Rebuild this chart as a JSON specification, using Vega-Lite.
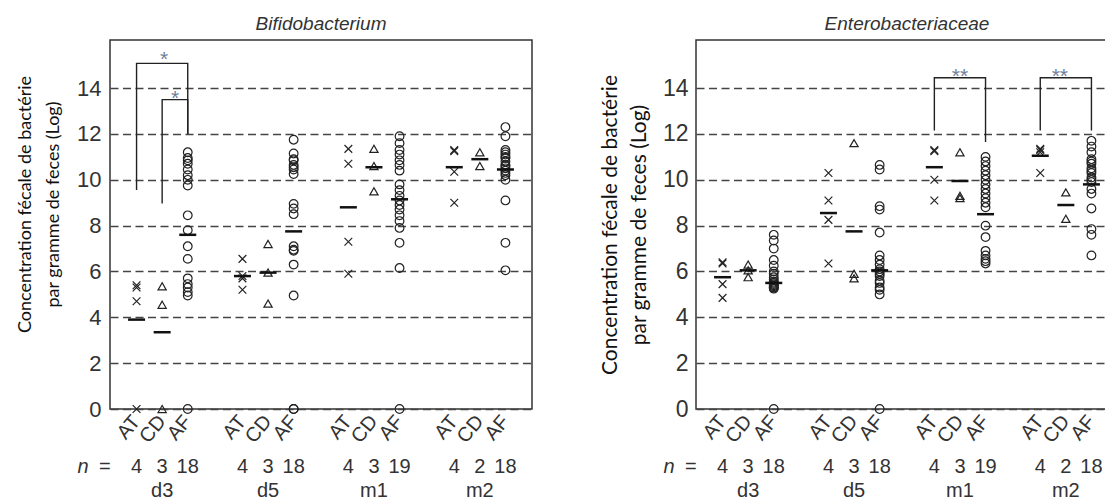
{
 "$schema": "https://vega.github.io/schema/vega-lite/v6.json",
 "padding": {"left": 15, "top": 14, "right": 0, "bottom": 0},
 "background": "white",
 "spacing": 65,
 "config": {"view": {"stroke": "#333", "strokeWidth": 1.5}, "font": "Liberation Sans"},
 "datasets": {
  "bif": [
   {"period":"d3","group":"AT","value":0},{"period":"d3","group":"AT","value":4.7},{"period":"d3","group":"AT","value":5.3},{"period":"d3","group":"AT","value":5.4},
   {"period":"d3","group":"CD","value":0},{"period":"d3","group":"CD","value":4.55},{"period":"d3","group":"CD","value":5.35},
   {"period":"d3","group":"AF","value":11.2},{"period":"d3","group":"AF","value":10.95},{"period":"d3","group":"AF","value":10.85},{"period":"d3","group":"AF","value":10.7},{"period":"d3","group":"AF","value":10.45},{"period":"d3","group":"AF","value":10.2},{"period":"d3","group":"AF","value":10.0},{"period":"d3","group":"AF","value":9.75},{"period":"d3","group":"AF","value":8.45},{"period":"d3","group":"AF","value":7.8},{"period":"d3","group":"AF","value":7.1},{"period":"d3","group":"AF","value":6.55},{"period":"d3","group":"AF","value":5.7},{"period":"d3","group":"AF","value":5.45},{"period":"d3","group":"AF","value":5.3},{"period":"d3","group":"AF","value":5.1},{"period":"d3","group":"AF","value":4.95},{"period":"d3","group":"AF","value":0},
   {"period":"d5","group":"AT","value":6.55},{"period":"d5","group":"AT","value":5.8},{"period":"d5","group":"AT","value":5.7},{"period":"d5","group":"AT","value":5.2},
   {"period":"d5","group":"CD","value":7.2},{"period":"d5","group":"CD","value":5.95},{"period":"d5","group":"CD","value":4.6},
   {"period":"d5","group":"AF","value":11.75},{"period":"d5","group":"AF","value":11.15},{"period":"d5","group":"AF","value":10.9},{"period":"d5","group":"AF","value":10.85},{"period":"d5","group":"AF","value":10.65},{"period":"d5","group":"AF","value":10.55},{"period":"d5","group":"AF","value":10.45},{"period":"d5","group":"AF","value":10.25},{"period":"d5","group":"AF","value":8.95},{"period":"d5","group":"AF","value":8.75},{"period":"d5","group":"AF","value":8.5},{"period":"d5","group":"AF","value":7.1},{"period":"d5","group":"AF","value":6.95},{"period":"d5","group":"AF","value":6.9},{"period":"d5","group":"AF","value":6.3},{"period":"d5","group":"AF","value":4.95},{"period":"d5","group":"AF","value":0},{"period":"d5","group":"AF","value":0},
   {"period":"m1","group":"AT","value":11.35},{"period":"m1","group":"AT","value":10.7},{"period":"m1","group":"AT","value":7.3},{"period":"m1","group":"AT","value":5.9},
   {"period":"m1","group":"CD","value":11.35},{"period":"m1","group":"CD","value":10.6},{"period":"m1","group":"CD","value":9.5},
   {"period":"m1","group":"AF","value":11.9},{"period":"m1","group":"AF","value":11.6},{"period":"m1","group":"AF","value":11.3},{"period":"m1","group":"AF","value":11.1},{"period":"m1","group":"AF","value":10.85},{"period":"m1","group":"AF","value":10.65},{"period":"m1","group":"AF","value":10.4},{"period":"m1","group":"AF","value":9.8},{"period":"m1","group":"AF","value":9.55},{"period":"m1","group":"AF","value":9.3},{"period":"m1","group":"AF","value":9.1},{"period":"m1","group":"AF","value":8.9},{"period":"m1","group":"AF","value":8.7},{"period":"m1","group":"AF","value":8.45},{"period":"m1","group":"AF","value":8.2},{"period":"m1","group":"AF","value":7.9},{"period":"m1","group":"AF","value":7.25},{"period":"m1","group":"AF","value":6.15},{"period":"m1","group":"AF","value":0},
   {"period":"m2","group":"AT","value":11.3},{"period":"m2","group":"AT","value":11.25},{"period":"m2","group":"AT","value":10.35},{"period":"m2","group":"AT","value":9.0},
   {"period":"m2","group":"CD","value":11.2},{"period":"m2","group":"CD","value":10.6},
   {"period":"m2","group":"AF","value":12.3},{"period":"m2","group":"AF","value":11.9},{"period":"m2","group":"AF","value":11.3},{"period":"m2","group":"AF","value":11.2},{"period":"m2","group":"AF","value":11.1},{"period":"m2","group":"AF","value":11.0},{"period":"m2","group":"AF","value":10.95},{"period":"m2","group":"AF","value":10.8},{"period":"m2","group":"AF","value":10.65},{"period":"m2","group":"AF","value":10.6},{"period":"m2","group":"AF","value":10.5},{"period":"m2","group":"AF","value":10.4},{"period":"m2","group":"AF","value":10.3},{"period":"m2","group":"AF","value":10.2},{"period":"m2","group":"AF","value":10.0},{"period":"m2","group":"AF","value":9.1},{"period":"m2","group":"AF","value":7.25},{"period":"m2","group":"AF","value":6.05}
  ],
  "bif_mean": [
   {"period":"d3","group":"AT","value":3.9},{"period":"d3","group":"CD","value":3.35},{"period":"d3","group":"AF","value":7.6},
   {"period":"d5","group":"AT","value":5.8},{"period":"d5","group":"CD","value":5.95},{"period":"d5","group":"AF","value":7.75},
   {"period":"m1","group":"AT","value":8.8},{"period":"m1","group":"CD","value":10.55},{"period":"m1","group":"AF","value":9.15},
   {"period":"m2","group":"AT","value":10.55},{"period":"m2","group":"CD","value":10.9},{"period":"m2","group":"AF","value":10.45}
  ],
  "bif_br": [
   {"id":"outer","ord":1,"period":"d3","group":"AT","value":9.55},{"id":"outer","ord":2,"period":"d3","group":"AT","value":15.08},{"id":"outer","ord":3,"period":"d3","group":"AF","value":15.08},{"id":"outer","ord":4,"period":"d3","group":"AF","value":12.0},
   {"id":"inner","ord":1,"period":"d3","group":"CD","value":8.97},{"id":"inner","ord":2,"period":"d3","group":"CD","value":13.5},{"id":"inner","ord":3,"period":"d3","group":"AF","value":13.5},{"id":"inner","ord":4,"period":"d3","group":"AF","value":12.0}
  ],
  "ent": [
   {"period":"d3","group":"AT","value":6.4},{"period":"d3","group":"AT","value":6.35},{"period":"d3","group":"AT","value":5.45},{"period":"d3","group":"AT","value":4.85},
   {"period":"d3","group":"CD","value":6.3},{"period":"d3","group":"CD","value":6.05},{"period":"d3","group":"CD","value":5.75},
   {"period":"d3","group":"AF","value":7.6},{"period":"d3","group":"AF","value":7.35},{"period":"d3","group":"AF","value":7.0},{"period":"d3","group":"AF","value":6.5},{"period":"d3","group":"AF","value":6.25},{"period":"d3","group":"AF","value":6.0},{"period":"d3","group":"AF","value":5.9},{"period":"d3","group":"AF","value":5.75},{"period":"d3","group":"AF","value":5.65},{"period":"d3","group":"AF","value":5.55},{"period":"d3","group":"AF","value":5.5},{"period":"d3","group":"AF","value":5.45},{"period":"d3","group":"AF","value":5.4},{"period":"d3","group":"AF","value":5.35},{"period":"d3","group":"AF","value":5.3},{"period":"d3","group":"AF","value":5.3},{"period":"d3","group":"AF","value":5.25},{"period":"d3","group":"AF","value":0},
   {"period":"d5","group":"AT","value":10.3},{"period":"d5","group":"AT","value":9.1},{"period":"d5","group":"AT","value":8.25},{"period":"d5","group":"AT","value":6.35},
   {"period":"d5","group":"CD","value":11.6},{"period":"d5","group":"CD","value":5.9},{"period":"d5","group":"CD","value":5.7},
   {"period":"d5","group":"AF","value":10.65},{"period":"d5","group":"AF","value":10.45},{"period":"d5","group":"AF","value":8.85},{"period":"d5","group":"AF","value":8.7},{"period":"d5","group":"AF","value":7.7},{"period":"d5","group":"AF","value":6.7},{"period":"d5","group":"AF","value":6.5},{"period":"d5","group":"AF","value":6.3},{"period":"d5","group":"AF","value":6.1},{"period":"d5","group":"AF","value":6.0},{"period":"d5","group":"AF","value":5.9},{"period":"d5","group":"AF","value":5.8},{"period":"d5","group":"AF","value":5.6},{"period":"d5","group":"AF","value":5.5},{"period":"d5","group":"AF","value":5.3},{"period":"d5","group":"AF","value":5.2},{"period":"d5","group":"AF","value":5.0},{"period":"d5","group":"AF","value":0},
   {"period":"m1","group":"AT","value":11.3},{"period":"m1","group":"AT","value":11.25},{"period":"m1","group":"AT","value":10.0},{"period":"m1","group":"AT","value":9.1},
   {"period":"m1","group":"CD","value":11.2},{"period":"m1","group":"CD","value":9.3},{"period":"m1","group":"CD","value":9.2},
   {"period":"m1","group":"AF","value":11.0},{"period":"m1","group":"AF","value":10.8},{"period":"m1","group":"AF","value":10.6},{"period":"m1","group":"AF","value":10.4},{"period":"m1","group":"AF","value":10.2},{"period":"m1","group":"AF","value":10.0},{"period":"m1","group":"AF","value":9.8},{"period":"m1","group":"AF","value":9.6},{"period":"m1","group":"AF","value":9.4},{"period":"m1","group":"AF","value":9.2},{"period":"m1","group":"AF","value":9.0},{"period":"m1","group":"AF","value":8.8},{"period":"m1","group":"AF","value":8.0},{"period":"m1","group":"AF","value":7.5},{"period":"m1","group":"AF","value":6.9},{"period":"m1","group":"AF","value":6.7},{"period":"m1","group":"AF","value":6.55},{"period":"m1","group":"AF","value":6.45},{"period":"m1","group":"AF","value":6.35},
   {"period":"m2","group":"AT","value":11.35},{"period":"m2","group":"AT","value":11.3},{"period":"m2","group":"AT","value":11.2},{"period":"m2","group":"AT","value":10.3},
   {"period":"m2","group":"CD","value":9.45},{"period":"m2","group":"CD","value":8.3},
   {"period":"m2","group":"AF","value":11.7},{"period":"m2","group":"AF","value":11.45},{"period":"m2","group":"AF","value":11.2},{"period":"m2","group":"AF","value":10.9},{"period":"m2","group":"AF","value":10.8},{"period":"m2","group":"AF","value":10.7},{"period":"m2","group":"AF","value":10.5},{"period":"m2","group":"AF","value":10.4},{"period":"m2","group":"AF","value":10.3},{"period":"m2","group":"AF","value":10.1},{"period":"m2","group":"AF","value":10.0},{"period":"m2","group":"AF","value":9.9},{"period":"m2","group":"AF","value":9.6},{"period":"m2","group":"AF","value":9.4},{"period":"m2","group":"AF","value":8.75},{"period":"m2","group":"AF","value":7.85},{"period":"m2","group":"AF","value":7.6},{"period":"m2","group":"AF","value":6.7}
  ],
  "ent_mean": [
   {"period":"d3","group":"AT","value":5.75},{"period":"d3","group":"CD","value":6.05},{"period":"d3","group":"AF","value":5.5},
   {"period":"d5","group":"AT","value":8.55},{"period":"d5","group":"CD","value":7.75},{"period":"d5","group":"AF","value":6.05},
   {"period":"m1","group":"AT","value":10.55},{"period":"m1","group":"CD","value":9.95},{"period":"m1","group":"AF","value":8.5},
   {"period":"m2","group":"AT","value":11.05},{"period":"m2","group":"CD","value":8.9},{"period":"m2","group":"AF","value":9.8}
  ],
  "ent_br": [
   {"id":"m1","ord":1,"period":"m1","group":"AT","value":12.15},{"id":"m1","ord":2,"period":"m1","group":"AT","value":14.45},{"id":"m1","ord":3,"period":"m1","group":"AF","value":14.45},{"id":"m1","ord":4,"period":"m1","group":"AF","value":11.65},
   {"id":"m2","ord":1,"period":"m2","group":"AT","value":12.15},{"id":"m2","ord":2,"period":"m2","group":"AT","value":14.45},{"id":"m2","ord":3,"period":"m2","group":"AF","value":14.45},{"id":"m2","ord":4,"period":"m2","group":"AF","value":12.15}
  ],
  "labels": [
   {"period":"d3","group":"AT","n":"4"},{"period":"d3","group":"CD","n":"3"},{"period":"d3","group":"AF","n":"18"},
   {"period":"d5","group":"AT","n":"4"},{"period":"d5","group":"CD","n":"3"},{"period":"d5","group":"AF","n":"18"},
   {"period":"m1","group":"AT","n":"4"},{"period":"m1","group":"CD","n":"3"},{"period":"m1","group":"AF","n":"19"},
   {"period":"m2","group":"AT","n":"4"},{"period":"m2","group":"CD","n":"2"},{"period":"m2","group":"AF","n":"18"}
  ],
  "nlab": [{"period":"d3","group":"AT"}]
 },
 "hconcat": [
  {
   "width": 422, "height": 369,
   "title": {"text": "Bifidobacterium", "fontStyle": "italic", "fontWeight": "normal", "fontSize": 19, "color": "#333", "offset": 6},
   "layer": [
    {
     "data": {"name": "bif"},
     "mark": {"type": "point", "filled": false, "color": "#222", "strokeWidth": 1.2, "opacity": 1},
     "encoding": {
      "x": {"field": "period", "type": "nominal", "scale": {"domain": ["d3","d5","m1","m2"], "paddingInner": 0.275, "paddingOuter": 0.13},
            "axis": {"domain": false, "ticks": false, "grid": false, "labelAngle": 0, "labelPadding": 71, "labelFontSize": 20, "labelColor": "#333", "title": null}},
      "xOffset": {"field": "group", "type": "nominal", "scale": {"domain": ["AT","CD","AF"], "paddingInner": 0, "paddingOuter": 0}},
      "y": {"field": "value", "type": "quantitative", "scale": {"domain": [0, 16.1], "nice": false, "zero": false},
            "axis": {"values": [0,2,4,6,8,10,12,14], "grid": true, "gridDash": [8,4.5], "gridColor": "#444", "gridWidth": 1.4, "domain": false, "ticks": false, "labelPadding": 9, "labelFontSize": 22, "labelColor": "#333",
                     "title": ["Concentration fécale de bactérie", "par gramme de feces (Log)"], "titleFont": "Lato", "titleFontSize": 18, "titleFontWeight": "normal", "titleColor": "#111", "titlePadding": 14, "titleLineHeight": 28, "titleY": 164}},
      "shape": {"field": "group", "type": "nominal", "scale": {"domain": ["AT","CD","AF"], "range": ["M-1,-1L1,1M1,-1L-1,1", "triangle-up", "circle"]}, "legend": null},
      "size": {"field": "group", "type": "ordinal", "scale": {"domain": ["AT","CD","AF"], "range": [60, 75, 55]}, "legend": null}
     }
    },
    {
     "data": {"name": "bif_mean"},
     "mark": {"type": "tick", "orient": "horizontal", "size": 17, "thickness": 2.5, "color": "#111", "opacity": 1},
     "encoding": {"x": {"field": "period", "type": "nominal"}, "xOffset": {"field": "group", "type": "nominal"}, "y": {"field": "value", "type": "quantitative"}}
    },
    {
     "data": {"name": "bif_br"},
     "mark": {"type": "line", "color": "#222", "strokeWidth": 1.4},
     "encoding": {"x": {"field": "period", "type": "nominal"}, "xOffset": {"field": "group", "type": "nominal"}, "y": {"field": "value", "type": "quantitative"}, "detail": {"field": "id"}, "order": {"field": "ord", "type": "quantitative"}}
    },
    {
     "data": {"values": [{"period": "d3", "group": "CD", "value": 14.95, "label": "*"}]},
     "mark": {"type": "text", "fontSize": 21, "color": "#6f7f9c", "baseline": "alphabetic", "dx": 2},
     "encoding": {"x": {"field": "period", "type": "nominal"}, "xOffset": {"field": "group", "type": "nominal"}, "y": {"field": "value", "type": "quantitative"}, "text": {"field": "label"}}
    },
    {
     "data": {"values": [{"period": "d3", "group": "CD", "value": 13.27, "label": "*"}]},
     "mark": {"type": "text", "fontSize": 21, "color": "#6f7f9c", "baseline": "alphabetic", "dx": 13},
     "encoding": {"x": {"field": "period", "type": "nominal"}, "xOffset": {"field": "group", "type": "nominal"}, "y": {"field": "value", "type": "quantitative"}, "text": {"field": "label"}}
    },
    {
     "data": {"name": "labels"},
     "mark": {"type": "text", "angle": -50, "align": "right", "baseline": "middle", "fontSize": 20, "color": "#333"},
     "encoding": {"x": {"field": "period", "type": "nominal"}, "xOffset": {"field": "group", "type": "nominal"}, "y": {"datum": -0.4}, "text": {"field": "group"}}
    },
    {
     "data": {"name": "labels"},
     "mark": {"type": "text", "align": "center", "baseline": "middle", "fontSize": 20, "color": "#333"},
     "encoding": {"x": {"field": "period", "type": "nominal"}, "xOffset": {"field": "group", "type": "nominal"}, "y": {"datum": -2.55}, "text": {"field": "n"}}
    },
    {
     "data": {"name": "nlab"},
     "mark": {"type": "text", "align": "right", "baseline": "middle", "fontSize": 20, "fontStyle": "italic", "color": "#333", "dx": -48, "text": "n"},
     "encoding": {"x": {"field": "period", "type": "nominal"}, "xOffset": {"field": "group", "type": "nominal"}, "y": {"datum": -2.55}}
    },
    {
     "data": {"name": "nlab"},
     "mark": {"type": "text", "align": "right", "baseline": "middle", "fontSize": 20, "color": "#333", "dx": -26, "text": "="},
     "encoding": {"x": {"field": "period", "type": "nominal"}, "xOffset": {"field": "group", "type": "nominal"}, "y": {"datum": -2.55}}
    }
   ]
  },
  {
   "width": 422, "height": 369,
   "title": {"text": "Enterobacteriaceae", "fontStyle": "italic", "fontWeight": "normal", "fontSize": 19, "color": "#333", "offset": 6},
   "layer": [
    {
     "data": {"name": "ent"},
     "mark": {"type": "point", "filled": false, "color": "#222", "strokeWidth": 1.2, "opacity": 1},
     "encoding": {
      "x": {"field": "period", "type": "nominal", "scale": {"domain": ["d3","d5","m1","m2"], "paddingInner": 0.275, "paddingOuter": 0.13},
            "axis": {"domain": false, "ticks": false, "grid": false, "labelAngle": 0, "labelPadding": 71, "labelFontSize": 20, "labelColor": "#333", "title": null}},
      "xOffset": {"field": "group", "type": "nominal", "scale": {"domain": ["AT","CD","AF"], "paddingInner": 0, "paddingOuter": 0}},
      "y": {"field": "value", "type": "quantitative", "scale": {"domain": [0, 16.1], "nice": false, "zero": false},
            "axis": {"values": [0,2,4,6,8,10,12,14], "grid": true, "gridDash": [8,4.5], "gridColor": "#444", "gridWidth": 1.4, "domain": false, "ticks": false, "labelPadding": 8, "labelFontSize": 23, "labelColor": "#333",
                     "title": ["Concentration fécale de bactérie", "par gramme de feces (Log)"], "titleFont": "Lato", "titleFontSize": 21, "titleFontWeight": "normal", "titleColor": "#111", "titlePadding": 13, "titleLineHeight": 29}},
      "shape": {"field": "group", "type": "nominal", "scale": {"domain": ["AT","CD","AF"], "range": ["M-1,-1L1,1M1,-1L-1,1", "triangle-up", "circle"]}, "legend": null},
      "size": {"field": "group", "type": "ordinal", "scale": {"domain": ["AT","CD","AF"], "range": [60, 75, 55]}, "legend": null}
     }
    },
    {
     "data": {"name": "ent_mean"},
     "mark": {"type": "tick", "orient": "horizontal", "size": 17, "thickness": 2.5, "color": "#111", "opacity": 1},
     "encoding": {"x": {"field": "period", "type": "nominal"}, "xOffset": {"field": "group", "type": "nominal"}, "y": {"field": "value", "type": "quantitative"}}
    },
    {
     "data": {"name": "ent_br"},
     "mark": {"type": "line", "color": "#222", "strokeWidth": 1.4},
     "encoding": {"x": {"field": "period", "type": "nominal"}, "xOffset": {"field": "group", "type": "nominal"}, "y": {"field": "value", "type": "quantitative"}, "detail": {"field": "id"}, "order": {"field": "ord", "type": "quantitative"}}
    },
    {
     "data": {"values": [{"period": "m1", "group": "CD", "value": 14.24, "label": "**"}]},
     "mark": {"type": "text", "fontSize": 21, "color": "#6f7f9c", "baseline": "alphabetic", "dx": 0},
     "encoding": {"x": {"field": "period", "type": "nominal"}, "xOffset": {"field": "group", "type": "nominal"}, "y": {"field": "value", "type": "quantitative"}, "text": {"field": "label"}}
    },
    {
     "data": {"values": [{"period": "m2", "group": "CD", "value": 14.24, "label": "**"}]},
     "mark": {"type": "text", "fontSize": 21, "color": "#6f7f9c", "baseline": "alphabetic", "dx": -6},
     "encoding": {"x": {"field": "period", "type": "nominal"}, "xOffset": {"field": "group", "type": "nominal"}, "y": {"field": "value", "type": "quantitative"}, "text": {"field": "label"}}
    },
    {
     "data": {"name": "labels"},
     "mark": {"type": "text", "angle": -50, "align": "right", "baseline": "middle", "fontSize": 20, "color": "#333"},
     "encoding": {"x": {"field": "period", "type": "nominal"}, "xOffset": {"field": "group", "type": "nominal"}, "y": {"datum": -0.4}, "text": {"field": "group"}}
    },
    {
     "data": {"name": "labels"},
     "mark": {"type": "text", "align": "center", "baseline": "middle", "fontSize": 20, "color": "#333"},
     "encoding": {"x": {"field": "period", "type": "nominal"}, "xOffset": {"field": "group", "type": "nominal"}, "y": {"datum": -2.55}, "text": {"field": "n"}}
    },
    {
     "data": {"name": "nlab"},
     "mark": {"type": "text", "align": "right", "baseline": "middle", "fontSize": 20, "fontStyle": "italic", "color": "#333", "dx": -48, "text": "n"},
     "encoding": {"x": {"field": "period", "type": "nominal"}, "xOffset": {"field": "group", "type": "nominal"}, "y": {"datum": -2.55}}
    },
    {
     "data": {"name": "nlab"},
     "mark": {"type": "text", "align": "right", "baseline": "middle", "fontSize": 20, "color": "#333", "dx": -26, "text": "="},
     "encoding": {"x": {"field": "period", "type": "nominal"}, "xOffset": {"field": "group", "type": "nominal"}, "y": {"datum": -2.55}}
    }
   ]
  }
 ]
}
